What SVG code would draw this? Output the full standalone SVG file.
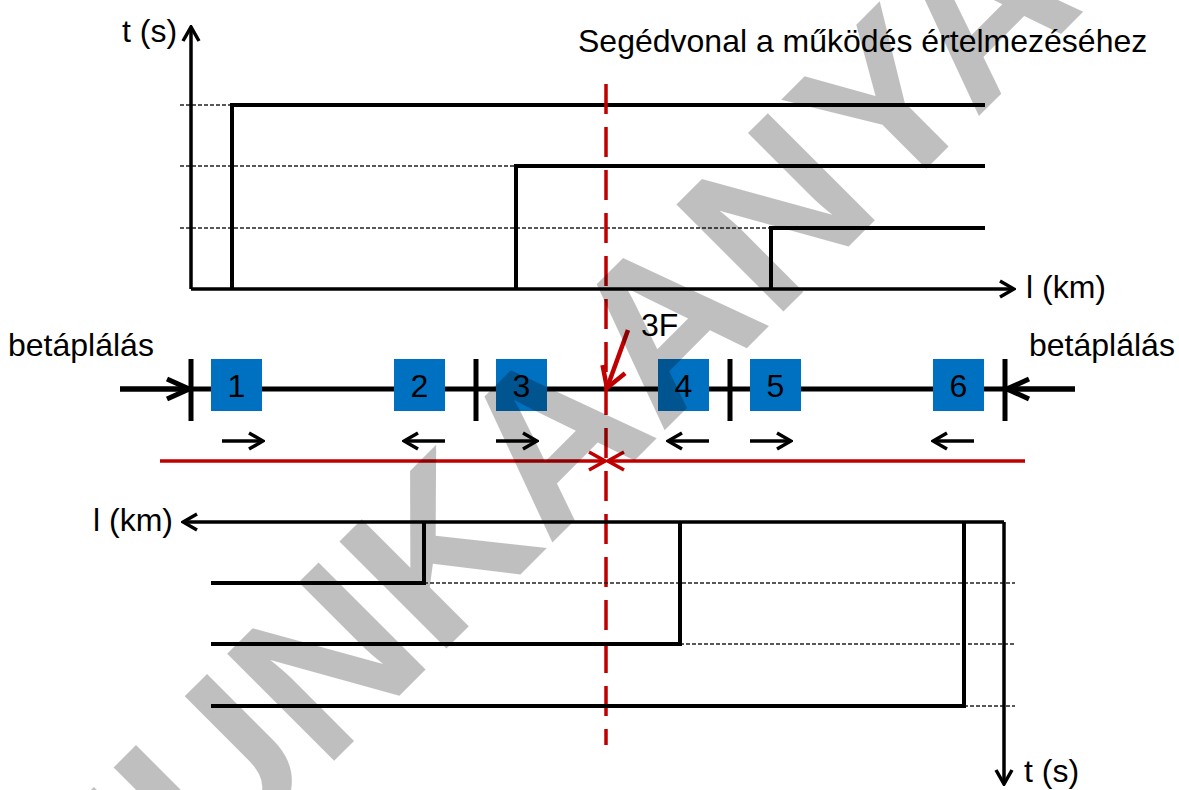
<svg xmlns="http://www.w3.org/2000/svg" width="1179" height="790" viewBox="0 0 1179 790">
  <defs>
    <style>
      text { font-family: "Liberation Sans", Arial, sans-serif; font-size: 32px; fill: #000; }
      .ln { stroke: #000; stroke-width: 4; fill: none; }
      .ax { stroke: #000; stroke-width: 3.5; fill: none; }
      .guide { stroke: #222; stroke-width: 1.3; stroke-dasharray: 4 2; fill: none; }
      .bus { stroke: #000; stroke-width: 5; fill: none; }
      .bar { stroke: #000; stroke-width: 5; }
      .dir { stroke: #000; stroke-width: 3.5; fill: none; }
      .relay rect { fill: #0070C0; }
      .relay text { text-anchor: middle; }
      .red { stroke: #C00000; stroke-width: 3.5; fill: none; }
      .fault { stroke: #C00000; stroke-width: 4.5; fill: none; }
      .aux { stroke: #C00000; stroke-width: 3.5; fill: none; stroke-dasharray: 30 13; }
      .wm { font-family: "Liberation Sans", Arial, sans-serif; font-weight: bold; font-size: 220px; fill: #000; fill-opacity: 0.25; }
    </style>
    <marker id="ah" viewBox="0 0 18 20" refX="16" refY="10" markerWidth="18" markerHeight="20" markerUnits="userSpaceOnUse" orient="auto">
      <path d="M2,2 L16,10 L2,18" fill="none" stroke="#000" stroke-width="3.5"/>
    </marker>
    <marker id="ahb" viewBox="0 0 28 26" refX="25" refY="13" markerWidth="28" markerHeight="26" markerUnits="userSpaceOnUse" orient="auto">
      <path d="M3,3 L25,13 L3,23" fill="none" stroke="#000" stroke-width="5"/>
    </marker>
    <marker id="ahr" viewBox="0 0 20 22" refX="18" refY="11" markerWidth="20" markerHeight="22" markerUnits="userSpaceOnUse" orient="auto">
      <path d="M2,2 L18,11 L2,20" fill="none" stroke="#C00000" stroke-width="3.5"/>
    </marker>
    <marker id="ahf" viewBox="0 0 26 30" refX="23" refY="15" markerWidth="26" markerHeight="30" markerUnits="userSpaceOnUse" orient="auto">
      <path d="M3,3 L23,15 L3,27" fill="none" stroke="#C00000" stroke-width="4.5"/>
    </marker>
  </defs>

  <rect width="1179" height="790" fill="#fff"/>

  <!-- upper time-distance chart -->
  <g id="top-chart">
    <path class="guide" d="M180,105 H232 M180,166 H516 M180,228 H771"/>
    <path class="ax" d="M191,289 V27" marker-end="url(#ah)"/>
    <path class="ax" d="M191,289 H1014" marker-end="url(#ah)"/>
    <path class="ln" d="M232,289 V105 H985"/>
    <path class="ln" d="M516,289 V166 H985"/>
    <path class="ln" d="M771,289 V228 H985"/>
    <text x="122" y="42">t (s)</text>
    <text x="1026" y="298">l (km)</text>
  </g>

  <g id="aux-label">
    <text x="578" y="52">Segédvonal a működés értelmezéséhez</text>
  </g>

  <!-- line with breakers, feeds and fault location -->
  <g id="connectors">
    <path class="bus" d="M120,389 H1075"/>
    <path class="bus" d="M120,389 H189" marker-end="url(#ahb)"/>
    <path class="bus" d="M1075,389 H1007" marker-end="url(#ahb)"/>
    <path class="bar" d="M191,359 V421 M476,359 V421 M730,359 V421 M1005,359 V421"/>
    <path class="dir" d="M222,441 H263" marker-end="url(#ah)"/>
    <path class="dir" d="M445,441 H404" marker-end="url(#ah)"/>
    <path class="dir" d="M496,441 H537" marker-end="url(#ah)"/>
    <path class="dir" d="M709,441 H668" marker-end="url(#ah)"/>
    <path class="dir" d="M750,441 H791" marker-end="url(#ah)"/>
    <path class="dir" d="M974,441 H933" marker-end="url(#ah)"/>
    <path class="red" d="M160,461 H605" marker-end="url(#ahr)"/>
    <path class="red" d="M1025,461 H608" marker-end="url(#ahr)"/>
    <path class="fault" d="M628,330 L607,388" marker-end="url(#ahf)"/>
    <path class="aux" d="M606,84 V745"/>
  </g>

  <g id="relay-1" class="relay"><rect x="211" y="359" width="51" height="52"/><text x="236.5" y="397">1</text></g>
  <g id="relay-2" class="relay"><rect x="394" y="359" width="51" height="52"/><text x="419.5" y="397">2</text></g>
  <g id="relay-3" class="relay"><rect x="496" y="359" width="51" height="52"/><text x="521.5" y="397">3</text></g>
  <g id="relay-4" class="relay"><rect x="658" y="359" width="51" height="52"/><text x="683.5" y="397">4</text></g>
  <g id="relay-5" class="relay"><rect x="750" y="359" width="51" height="52"/><text x="775.5" y="397">5</text></g>
  <g id="relay-6" class="relay"><rect x="933" y="359" width="51" height="52"/><text x="958.5" y="397">6</text></g>

  <g id="feed-left"><text x="8" y="356">betáplálás</text></g>
  <g id="feed-right"><text x="1029" y="356">betáplálás</text></g>
  <g id="fault"><text x="641" y="336">3F</text></g>

  <!-- lower time-distance chart (mirrored) -->
  <g id="bottom-chart">
    <path class="guide" d="M424,583 H1015 M680,644 H1015 M964,706 H1015"/>
    <path class="ax" d="M1004,522 H183" marker-end="url(#ah)"/>
    <path class="ax" d="M1004,522 V784" marker-end="url(#ah)"/>
    <path class="ln" d="M211,583 H424 V522"/>
    <path class="ln" d="M211,644 H680 V522"/>
    <path class="ln" d="M211,706 H964 V522"/>
    <text x="93" y="531">l (km)</text>
    <text x="1024" y="782">t (s)</text>
  </g>

  <g id="watermark">
    <text class="wm" text-anchor="middle" transform="translate(645,450) rotate(-45)">MUNKAANYAG</text>
  </g>
</svg>
